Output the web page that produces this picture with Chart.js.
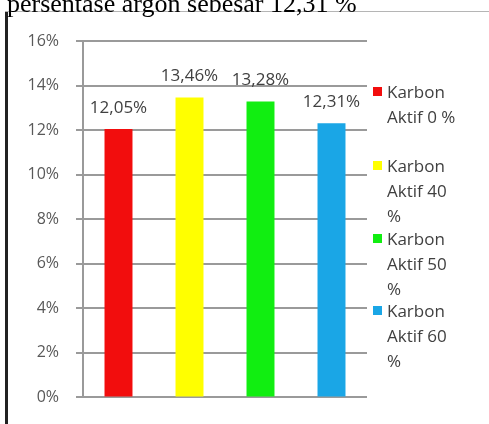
<!DOCTYPE html>
<html>
<head>
<meta charset="utf-8">
<script src="https://cdn.jsdelivr.net/npm/chart.js@4"></script>
<style>
  html, body { margin: 0; padding: 0; background: #fff; }
  body { width: 489px; height: 424px; position: relative; overflow: hidden; }
  #caption {
    position: absolute; left: 7px; top: -11px; margin: 0;
    font: 26px "Liberation Serif", serif; color: #000; white-space: nowrap;
    line-height: 30px;
  }
  #topLine { position: absolute; left: 5px; top: 11px; width: 484px; height: 1px; background: #b5b5b5; }
  #leftLine { position: absolute; left: 5px; top: 12px; width: 3px; height: 412px; background: #222; }
  #chartBox { position: absolute; left: 0; top: 0; width: 489px; height: 424px; }
  #legend { position: absolute; left: 373px; top: 0; }
  .item { position: absolute; left: 0; width: 110px; }
  .swatch { position: absolute; left: 0; top: 8px; width: 9px; height: 9px; }
  .label {
    position: absolute; left: 14px; width: 73px;
    font: 17px "Open Sans", sans-serif; line-height: 25px; color: #404040;
  }
</style>
</head>
<body>
<div id="chartBox"><canvas id="barChart"></canvas></div>
<div id="topLine"></div>
<div id="leftLine"></div>
<p id="caption">persentase argon sebesar 12,31 %</p>
<div id="legend"></div>
<script>
const categories = ["Karbon Aktif 0 %", "Karbon Aktif 40 %", "Karbon Aktif 50 %", "Karbon Aktif 60 %"];
const values = [12.05, 13.46, 13.28, 12.31]; // percent
const barColors = ["#f20d0d", "#ffff00", "#11ee11", "#1aa6e6"];
const yTicks = [0, 2, 4, 6, 8, 10, 12, 14, 16];
const legendTops = [79, 153, 226, 298];

function fmt(v) {
  return v.toFixed(2).replace(".", ",") + "%";
}

// values above the bars
const valueLabels = {
  id: "valueLabels",
  afterDatasetsDraw(chart) {
    const ctx = chart.ctx;
    const meta = chart.getDatasetMeta(0);
    ctx.save();
    ctx.font = '17px "Open Sans"';
    ctx.fillStyle = "#404040";
    ctx.textAlign = "center";
    ctx.textBaseline = "middle";
    meta.data.forEach((bar, i) => {
      ctx.fillText(fmt(values[i]), bar.x, bar.y - 21);
    });
    ctx.restore();
  }
};

const ctx = document.getElementById("barChart").getContext("2d");
const chart = new Chart(ctx, {
  type: "bar",
  data: {
    labels: categories,
    datasets: [{
      data: values,
      backgroundColor: barColors,
      categoryPercentage: 1,
      barPercentage: 0.394
    }]
  },
  options: {
    responsive: true,
    maintainAspectRatio: false,
    animation: false,
    layout: { padding: { top: 41, right: 122, bottom: 17, left: 0 } },
    plugins: { legend: { display: false }, tooltip: { enabled: false } },
    scales: {
      x: {
        ticks: { display: false },
        grid: { display: false },
        border: { display: false }
      },
      y: {
        min: 0,
        max: 16,
        afterFit: (scale) => { scale.width = 83; },
        afterBuildTicks: (scale) => { scale.ticks = yTicks.map(v => ({ value: v })); },
        ticks: {
          padding: 17,
          color: "#595959",
          font: { family: "Open Sans", size: 16 },
          callback: (v) => v + "%"
        },
        grid: { color: "#9a9a9a", lineWidth: 2, tickLength: 7 },
        border: { color: "#9a9a9a", width: 2 }
      }
    }
  },
  plugins: [valueLabels]
});

// legend on the right
const legend = document.getElementById("legend");
categories.forEach((name, i) => {
  const item = document.createElement("div");
  item.className = "item";
  item.style.top = legendTops[i] + "px";
  const sw = document.createElement("div");
  sw.className = "swatch";
  sw.style.background = barColors[i];
  const lb = document.createElement("div");
  lb.className = "label";
  lb.textContent = name;
  item.appendChild(sw);
  item.appendChild(lb);
  legend.appendChild(item);
});
</script>
</body>
</html>
